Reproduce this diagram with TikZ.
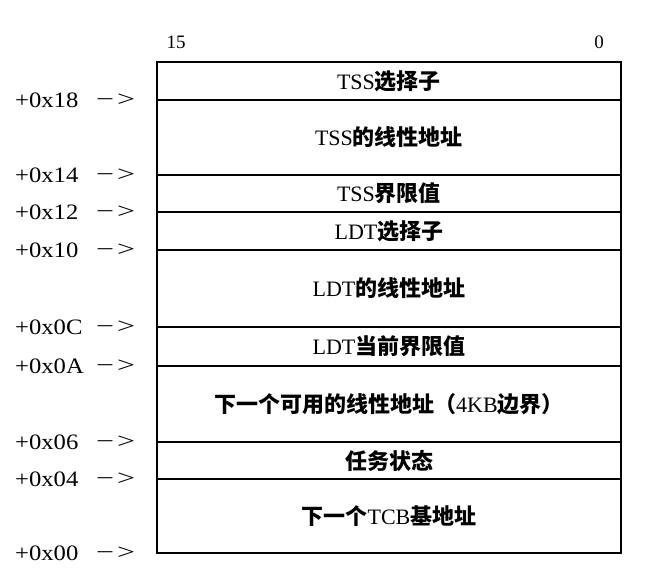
\documentclass[tikz,border=0pt]{standalone}
\usepackage{fontspec}
\setmainfont{Liberation Serif}
\newfontfamily\labfont[FakeStretch=1.12]{Liberation Serif}
\newfontfamily\arrfont[FakeStretch=1.45]{Liberation Serif}
\newfontfamily\cjk{Noto Sans CJK SC}
\newcommand\zh[1]{{\cjk\bfseries #1}}
\begin{document}
\begin{tikzpicture}[x=1pt,y=-1pt,
  rowbox/.style={draw, line width=1.3pt, minimum width=464pt, inner sep=0pt,
    font=\fontsize{22}{22}\selectfont},
  lab/.style={anchor=west, inner sep=0pt, font=\labfont\fontsize{22}{22}\selectfont},
  arr/.style={anchor=west, inner sep=0pt, font=\arrfont\fontsize{22}{22}\selectfont},
  bit/.style={inner sep=0pt, font=\fontsize{19}{19}\selectfont}]
\useasboundingbox (0,0) rectangle (650,572);
\node[bit] (b15) at (176,42) {15};
\node[bit] (b0) at (599,42) {0};
% rows
\node[rowbox, minimum height=38pt] (r1) at (389,81) {TSS\zh{选择子}};
\node[rowbox, minimum height=75pt] (r2) at (389,137.5) {TSS\zh{的线性地址}};
\node[rowbox, minimum height=37pt] (r3) at (389,193.5) {TSS\zh{界限值}};
\node[rowbox, minimum height=38pt] (r4) at (389,231) {LDT\zh{选择子}};
\node[rowbox, minimum height=77pt] (r5) at (389,288.5) {LDT\zh{的线性地址}};
\node[rowbox, minimum height=39pt] (r6) at (389,346.5) {LDT\zh{当前界限值}};
\node[rowbox, minimum height=76pt] (r7) at (389,404) {\zh{下一个可用的线性地址（}4KB\zh{边界）}};
\node[rowbox, minimum height=37pt] (r8) at (389,460.5) {\zh{任务状态}};
\node[rowbox, minimum height=74pt] (r9) at (389,516) {\zh{下一个}TCB\zh{基地址}};
% offset labels
\foreach \t/\y/\n in {+0x18/100/a, +0x14/175/b, +0x12/212/c, +0x10/250/d, +0x0C/327/e, +0x0A/366/f, +0x06/442/g, +0x04/479/h, +0x00/553/i}{
  \node[lab] (l\n) at (15,\y) {\t};
  \node[arr] (p\n) at (96,\y) {−\kern3pt>};
}
\end{tikzpicture}
\end{document}
